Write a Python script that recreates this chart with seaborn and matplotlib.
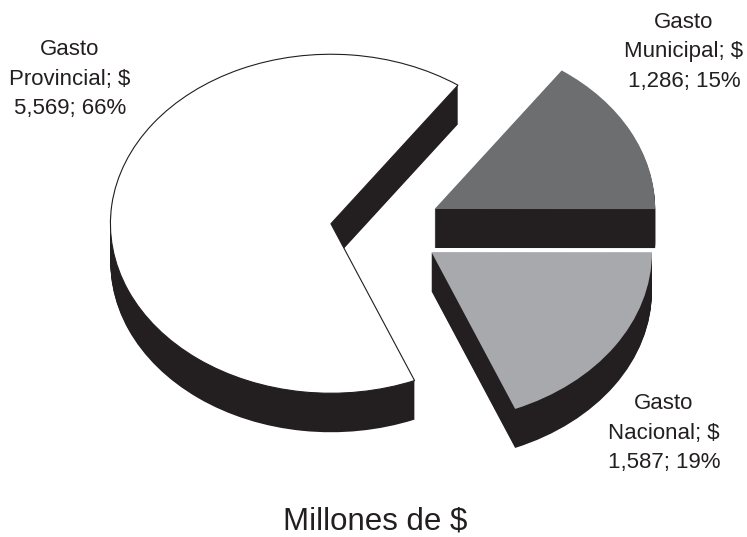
import matplotlib
matplotlib.use("Agg")
import matplotlib.pyplot as plt
import seaborn as sns

categorias = ["Nacional", "Municipal", "Provincial"]
montos = [1587, 1286, 5569]
porcentajes = [19, 15, 66]
colores = ["#a7a9ac", "#6d6e70", "#ffffff"]
negro = "#231f20"

W, H = 747, 537
RX, RY = 220.5, 169.5   # radios de la elipse en pixeles
PROF = 39               # profundidad del "3D" en pixeles
CX, CY = 385.7, 228.5

sns.set_theme(style="white")
plt.rcParams["font.family"] = ["Liberation Sans", "DejaVu Sans"]

fig = plt.figure(figsize=(W / 100, H / 100), dpi=100)
ax = fig.add_axes([0, 0, 1, 1])


def torta(y_px, cols):
    return ax.pie(montos, explode=[0.25] * 3, startangle=-67.7, colors=cols, radius=1,
                  center=(CX / RX, (H - y_px) / RY),
                  wedgeprops=dict(linewidth=0))[0]


# capas negras para la pared, de abajo hacia arriba
for d in range(PROF, 0, -1):
    torta(CY + d, [negro] * 3)
torta(CY, colores)
# borde fino solo para la porcion blanca
wedges = torta(CY, ["none"] * 3)
wedges[2].set_edgecolor(negro)
wedges[2].set_linewidth(0.8)
wedges[0].set_visible(False)
wedges[1].set_visible(False)

ax.set_aspect("auto")
ax.set_xlim(0, W / RX)
ax.set_ylim(0, H / RY)
ax.axis("off")

etiquetas = {
    "Provincial": (70, 79, "Provincial; $"),
    "Municipal": (684, 52, "Municipal; $"),
    "Nacional": (664, 433, "Nacional; $"),
}
for i, cat in enumerate(categorias):
    x, y, linea = etiquetas[cat]
    txt = f"Gasto\n{linea}\n{montos[i]:,}; {porcentajes[i]}%"
    fig.text(x / W, 1 - y / H, txt, ha="center", va="center", fontsize=16,
             linespacing=1.56, color=negro)

fig.text(375 / W, 1 - 522 / H, "Millones de $", ha="center", va="center",
         fontsize=22.5, color=negro)

fig.savefig("out.png", dpi=100, facecolor="white")
